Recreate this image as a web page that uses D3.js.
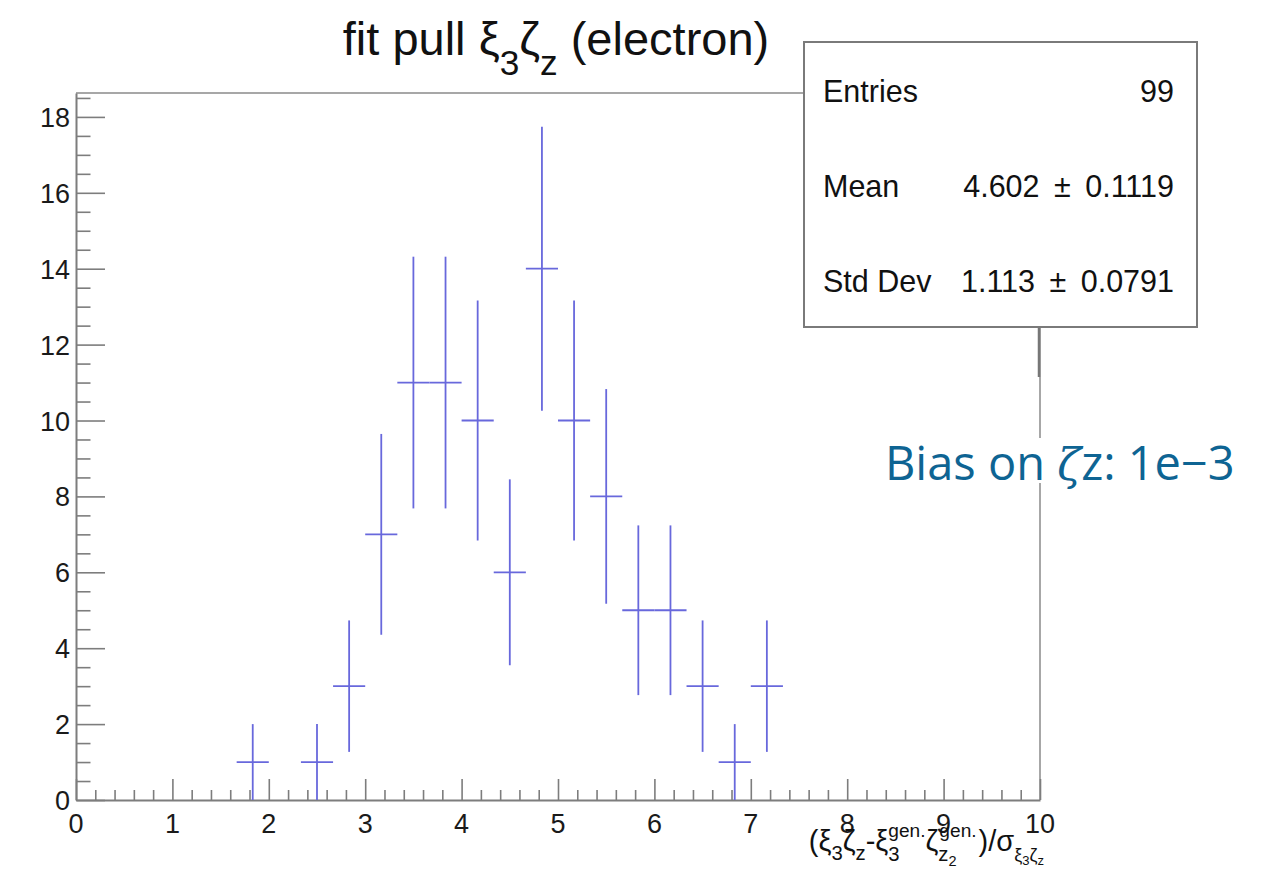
<!DOCTYPE html>
<html>
<head>
<meta charset="utf-8">
<script src="https://cdn.jsdelivr.net/npm/d3@7"></script>
<style>
  html, body { margin: 0; padding: 0; background: #fff; }
  svg { display: block; }
  svg text { white-space: pre; }
</style>
</head>
<body>
<svg id="chart" width="1265" height="887"></svg>
<script>
// Histogram: 30 bins over [0, 10], bin contents
const histRange = [0, 10];
const binCounts = [0, 0, 0, 0, 0, 1, 0, 1, 3, 7, 11, 11, 10, 6, 14, 10, 8, 5, 5, 3, 1, 3, 0, 0, 0, 0, 0, 0, 0, 0];
const yMax = 18.63;

// Axis ticks
const xMajorTicks = [0, 1, 2, 3, 4, 5, 6, 7, 8, 9, 10];
const yMajorTicks = [0, 2, 4, 6, 8, 10, 12, 14, 16, 18];

// Statistics box rows
const statLabels = ["Entries", "Mean", "Std Dev"];
const statValues = ["99", "4.602 \u00b1 0.1119", "1.113 \u00b1 0.0791"];

const svg = d3.select("#chart");
const FONT = "'Liberation Sans', Arial, Helvetica, sans-serif";
const AXIS_COLOR = "#7d7d7d";
const BAR_COLOR = "#6868dc";

const frame = { left: 76, right: 1040, top: 93, bottom: 800 };
const x = d3.scaleLinear().domain(histRange).range([frame.left, frame.right]);
const y = d3.scaleLinear().domain([0, yMax]).range([frame.bottom, frame.top]);

const nBins = binCounts.length;
const binW = (histRange[1] - histRange[0]) / nBins;
const bins = binCounts.map((c, i) => ({
  lo: histRange[0] + i * binW,
  hi: histRange[0] + (i + 1) * binW,
  c: c,
  err: Math.sqrt(c)
})).filter(b => b.c > 0);

// Frame (top and right edges)
svg.append("path")
  .attr("d", `M${frame.left},${frame.top}H${frame.right}V${frame.bottom}`)
  .attr("fill", "none").attr("stroke", "#8a8a8a").attr("stroke-width", 1.5);

// X axis: ticks point inward (upward)
const xAxis = d3.axisBottom(x)
  .tickValues(d3.range(0, 50.5, 1).map(v => v / 5))
  .tickSizeInner(0).tickSizeOuter(0).tickFormat("");
const gx = svg.append("g").attr("transform", `translate(0,${frame.bottom})`).call(xAxis);
gx.select(".domain").attr("stroke", AXIS_COLOR).attr("stroke-width", 2);
gx.selectAll(".tick line")
  .attr("y2", d => (Math.abs(d - Math.round(d)) < 1e-6 ? -21 : -10))
  .attr("stroke", AXIS_COLOR).attr("stroke-width", 1.6);
svg.append("g").selectAll("text").data(xMajorTicks).join("text")
  .attr("x", d => x(d)).attr("y", 833)
  .attr("text-anchor", "middle")
  .attr("font-family", FONT).attr("font-size", 27).attr("fill", "#1a1a1a")
  .text(d => d);

// Y axis: ticks point inward (rightward)
const yAxis = d3.axisLeft(y)
  .tickValues(d3.range(0, yMax, 0.5))
  .tickSizeInner(0).tickSizeOuter(0).tickFormat("");
const gy = svg.append("g").attr("transform", `translate(${frame.left},0)`).call(yAxis);
gy.select(".domain").attr("stroke", AXIS_COLOR).attr("stroke-width", 2);
gy.selectAll(".tick line")
  .attr("x2", d => (Math.abs(d / 2 - Math.round(d / 2)) < 1e-6 ? 29 : 14.5))
  .attr("stroke", AXIS_COLOR).attr("stroke-width", 1.6);
svg.append("g").selectAll("text").data(yMajorTicks).join("text")
  .attr("x", 70).attr("y", d => y(d) + 10)
  .attr("text-anchor", "end")
  .attr("font-family", FONT).attr("font-size", 27).attr("fill", "#1a1a1a")
  .text(d => d);

// Error-bar crosses: horizontal over the bin width, vertical +/- sqrt(N)
const gb = svg.append("g").attr("stroke", BAR_COLOR).attr("stroke-width", 1.8).attr("fill", "none");
gb.selectAll("line.h").data(bins).join("line").attr("class", "h")
  .attr("x1", d => x(d.lo)).attr("x2", d => x(d.hi))
  .attr("y1", d => y(d.c)).attr("y2", d => y(d.c));
gb.selectAll("line.v").data(bins).join("line").attr("class", "v")
  .attr("x1", d => x((d.lo + d.hi) / 2)).attr("x2", d => x((d.lo + d.hi) / 2))
  .attr("y1", d => y(Math.max(0, d.c - d.err))).attr("y2", d => y(d.c + d.err));

// Rich text helper: pieces laid out left to right, with sub/superscripts
function rich(parent, pieces, base, family) {
  const g = parent.append("g");
  const marks = {};
  let cx = 0;
  pieces.forEach(p => {
    const px = (p.from != null ? marks[p.from] : cx) + (p.dx || 0);
    if (p.mark) marks[p.mark] = px;
    const t = g.append("text")
      .attr("x", px).attr("y", (p.dy || 0) * base)
      .attr("font-family", family).attr("font-size", (p.s || 1) * base)
      .attr("fill", "#111")
      .text(p.t);
    const w = t.node().getComputedTextLength();
    if (p.markEnd) marks[p.markEnd] = px + w;
    cx = p.from != null ? Math.max(cx, px + w) : px + w;
  });
  return { g: g, width: cx };
}

// Title
const titlePieces = [
  { t: "fit pull " },
  { t: "\u03be" },
  { t: "3", s: 0.75, dy: 0.42 },
  { t: "\u03b6" },
  { t: "z", s: 0.75, dy: 0.42 },
  { t: " (electron)" }
];
const title = rich(svg, titlePieces, 47, FONT);
title.g.attr("transform", `translate(${556 - title.width / 2},55)`);

// X-axis title
const xTitlePieces = [
  { t: "(" },
  { t: "\u03be" },
  { t: "3", s: 0.7, dy: 0.3 },
  { t: "\u03b6" },
  { t: "z", s: 0.7, dy: 0.3 },
  { t: "-" },
  { t: "\u03be" },
  { t: "3", s: 0.7, dy: 0.33, mark: "a" },
  { t: "gen.", s: 0.66, dy: -0.5, from: "a" },
  { t: "\u03b6", markEnd: "b" },
  { t: "z", s: 0.7, dy: 0.33 },
  { t: "2", s: 0.5, dy: 0.5 },
  { t: "gen.", s: 0.66, dy: -0.5, from: "b", dx: 1 },
  { t: ")/\u03c3", dx: 2 },
  { t: "\u03be", s: 0.62, dy: 0.33 },
  { t: "3", s: 0.45, dy: 0.48 },
  { t: "\u03b6", s: 0.62, dy: 0.33 },
  { t: "z", s: 0.45, dy: 0.48 }
];
const xTitle = rich(svg, xTitlePieces, 29, FONT);
xTitle.g.attr("transform", `translate(${1044 - xTitle.width},851)`);

// Statistics box
svg.append("line")
  .attr("x1", frame.right - 1).attr("x2", frame.right - 1)
  .attr("y1", 328).attr("y2", 377)
  .attr("stroke", "#777").attr("stroke-width", 2.5);
svg.append("rect")
  .attr("x", 804).attr("y", 42).attr("width", 393).attr("height", 285)
  .attr("fill", "#fff").attr("stroke", "#7a7a7a").attr("stroke-width", 2);
const rowY = [102, 197, 292];
svg.append("g").selectAll("text").data(statLabels).join("text")
  .attr("x", 823).attr("y", (d, i) => rowY[i])
  .attr("font-family", FONT).attr("font-size", 30.5).attr("fill", "#111")
  .text(d => d);
svg.append("g").selectAll("text").data(statValues).join("text")
  .attr("x", 1174).attr("y", (d, i) => rowY[i])
  .attr("text-anchor", "end")
  .attr("font-family", FONT).attr("font-size", 30.5).attr("fill", "#111")
  .attr("word-spacing", 6)
  .text(d => d);

// Annotation with white background
const note = svg.append("g");
const noteBg = note.append("rect").attr("fill", "#fff");
const noteT = note.append("text")
  .attr("x", 885).attr("y", 480)
  .attr("font-family", "'Open Sans', 'Noto Sans', sans-serif")
  .attr("font-size", 47).attr("fill", "#0e6493");
noteT.append("tspan").text("Bias on ");
noteT.append("tspan")
  .attr("font-family", "'DejaVu Serif', 'Liberation Serif', serif")
  .attr("font-style", "italic").attr("font-size", 44)
  .text("\u03b6");
noteT.append("tspan").text("z: 1e\u22123");
const nw = noteT.node().getComputedTextLength();
noteBg.attr("x", 880).attr("y", 438).attr("width", nw + 10).attr("height", 45);
</script>
</body>
</html>
